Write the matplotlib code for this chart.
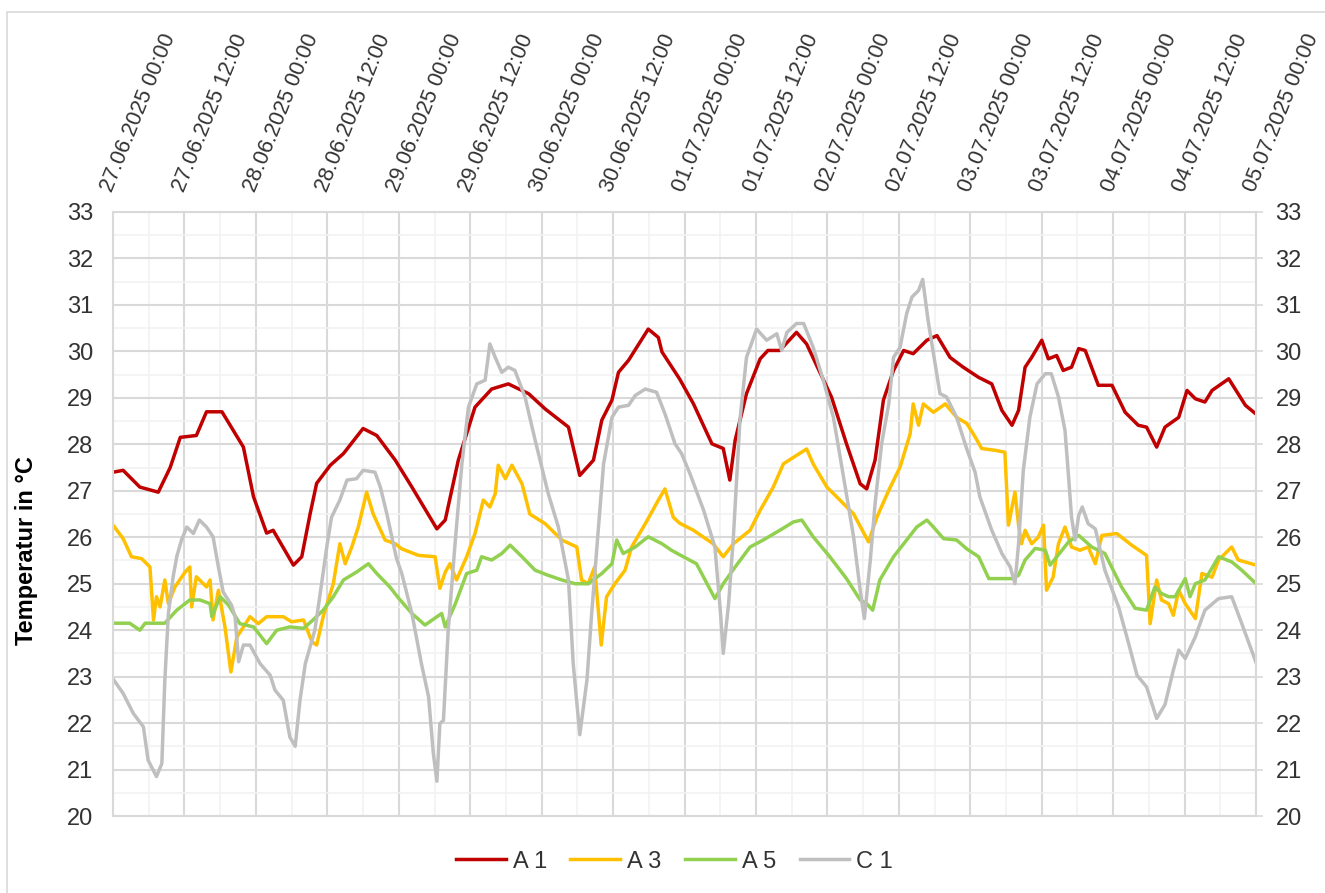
import numpy as np
import pandas as pd
import matplotlib
matplotlib.use("Agg")
import matplotlib.pyplot as plt
import matplotlib.dates as mdates
from matplotlib.patches import Rectangle
from matplotlib.transforms import ScaledTranslation

plt.rcParams['font.family'] = ['Liberation Sans', 'DejaVu Sans']

start = pd.Timestamp('2025-06-27 00:00')

# hours since start, temperatures
a1_h = [0, 1.7, 4.5, 7.6, 9.6, 11.3, 14.0, 15.7, 18.3, 21.9, 23.6, 25.8, 26.9, 30.3, 31.7, 33.1, 34.2, 36.5,
        38.7, 42.0, 44.3, 47.4, 50.2, 54.4, 55.8, 58.0, 60.8, 63.6, 66.4, 69.8, 72.6, 76.5, 78.4, 80.7, 82.1,
        83.8, 84.9, 86.6, 89.9, 91.6, 92.2, 95.2, 97.5, 100.6, 102.5, 103.6, 104.5, 106.4, 108.7, 110.0, 112.0,
        114.8, 116.5, 120.7, 123.2, 125.5, 126.6, 128.0, 129.4, 131.1, 132.8, 134.4, 136.7, 138.4, 140.6, 142.8,
        145.4, 147.6, 149.3, 151.0, 152.1, 153.2, 154.3, 156.0, 157.1, 158.5, 159.6, 161.0, 162.2, 163.3, 165.5,
        167.8, 170.0, 172.2, 173.6, 175.3, 176.7, 179.0, 180.4, 181.8, 183.4, 184.6, 187.4, 190.2, 192.0]
a1_t = [27.40, 27.44, 27.08, 26.97, 27.50, 28.15, 28.19, 28.70, 28.70, 27.94, 26.87, 26.09, 26.15, 25.40, 25.58,
        26.50, 27.16, 27.55, 27.80, 28.34, 28.19, 27.66, 27.08, 26.18, 26.37, 27.66, 28.80, 29.19, 29.30, 29.09,
        28.76, 28.37, 27.33, 27.66, 28.52, 28.95, 29.55, 29.81, 30.48, 30.30, 29.99, 29.40, 28.87, 28.01, 27.91,
        27.23, 28.09, 29.09, 29.84, 30.02, 30.02, 30.41, 30.16, 29.01, 28.01, 27.15, 27.04, 27.66, 28.95, 29.59,
        30.02, 29.95, 30.24, 30.34, 29.87, 29.66, 29.44, 29.30, 28.73, 28.41, 28.73, 29.66, 29.87, 30.24, 29.84,
        29.91, 29.59, 29.66, 30.06, 30.02, 29.27, 29.27, 28.69, 28.41, 28.37, 27.94, 28.37, 28.58, 29.16, 28.98,
        28.91, 29.16, 29.41, 28.84, 28.65]

a3_h = [0, 1.7, 3.1, 4.8, 6.2, 6.8, 7.3, 7.9, 8.7, 9.3, 10.4, 12.1, 12.9, 13.2, 14.0, 15.7, 16.3, 16.8, 17.7,
        18.8, 19.8, 20.8, 21.9, 23.0, 24.4, 25.8, 28.6, 30.0, 32.0, 33.4, 34.2, 35.3, 37.0, 38.1, 39.0, 40.1,
        41.2, 42.6, 43.7, 45.7, 47.4, 48.5, 51.3, 54.1, 54.9, 55.8, 56.6, 57.7, 59.4, 60.8, 62.2, 63.3, 64.2,
        64.7, 65.9, 67.0, 68.7, 70.0, 72.6, 75.4, 77.9, 78.7, 79.8, 80.9, 82.0, 82.9, 84.3, 86.0, 87.1, 89.4,
        91.6, 92.7, 94.1, 95.2, 97.5, 100.8, 102.5, 104.2, 107.0, 108.7, 110.9, 112.6, 114.3, 116.5, 117.6,
        119.9, 122.1, 124.4, 126.9, 128.3, 130.3, 132.2, 133.9, 134.4, 135.3, 136.1, 137.8, 139.8, 141.7,
        143.4, 144.8, 145.9, 148.2, 149.8, 150.4, 151.5, 152.1, 152.6, 153.2, 154.3, 155.4, 156.3, 156.8,
        157.9, 158.8, 159.9, 161.0, 162.4, 163.8, 165.0, 166.1, 168.6, 171.1, 173.6, 174.2, 175.3, 176.1,
        177.3, 178.1, 179.0, 180.1, 181.8, 182.9, 184.6, 185.7, 187.9, 189.0, 192.0]
a3_t = [26.26, 25.97, 25.58, 25.54, 25.36, 24.22, 24.72, 24.50, 25.08, 24.57, 24.93, 25.25, 25.36, 24.50, 25.15,
        24.93, 25.08, 24.22, 24.86, 24.07, 23.10, 23.85, 24.07, 24.29, 24.14, 24.29, 24.29, 24.18, 24.22, 23.75,
        23.68, 24.29, 25.00, 25.86, 25.43, 25.79, 26.22, 26.97, 26.50, 25.94, 25.86, 25.75, 25.61, 25.58, 24.90,
        25.25, 25.43, 25.08, 25.58, 26.08, 26.80, 26.65, 26.94, 27.55, 27.26, 27.55, 27.15, 26.50, 26.29, 25.94,
        25.79, 25.08, 25.00, 25.36, 23.68, 24.72, 25.00, 25.29, 25.79, 26.29, 26.80, 27.04, 26.43, 26.30, 26.15,
        25.86, 25.58, 25.86, 26.15, 26.58, 27.08, 27.58, 27.72, 27.90, 27.58, 27.08, 26.80, 26.50, 25.90, 26.43,
        27.01, 27.51, 28.23, 28.87, 28.41, 28.87, 28.69, 28.87, 28.58, 28.45, 28.16, 27.91, 27.87, 27.83, 26.26,
        26.97, 26.26, 25.86, 26.15, 25.86, 26.00, 26.26, 24.86, 25.14, 25.86, 26.22, 25.79, 25.72, 25.79, 25.43,
        26.04, 26.08, 25.83, 25.61, 24.14, 25.08, 24.65, 24.57, 24.32, 24.86, 24.57, 24.25, 25.22, 25.14, 25.51,
        25.79, 25.51, 25.40]

a5_h = [0, 2.8, 4.5, 5.4, 8.7, 10.7, 12.9, 14.6, 16.3, 16.6, 18.0, 19.4, 21.3, 23.6, 25.8, 27.5, 29.7, 32.0,
        33.6, 35.3, 37.0, 38.7, 40.9, 42.9, 44.3, 46.5, 47.9, 50.2, 52.4, 55.2, 55.8, 57.5, 59.4, 61.1, 61.9,
        63.6, 65.3, 66.7, 68.7, 70.9, 73.1, 75.4, 77.6, 79.8, 82.1, 83.8, 84.6, 85.7, 87.7, 89.9, 92.2, 93.8,
        95.5, 98.0, 101.1, 102.5, 104.5, 107.0, 109.2, 112.0, 114.3, 115.7, 117.6, 120.4, 123.2, 125.5, 126.6,
        127.6, 128.8, 131.1, 133.3, 135.0, 136.7, 137.8, 139.5, 141.7, 143.4, 145.4, 147.1, 151.0, 152.1,
        153.2, 154.9, 156.6, 157.4, 159.4, 160.5, 162.2, 164.4, 166.6, 169.4, 171.7, 173.6, 175.0, 176.1,
        177.3, 178.4, 180.1, 180.9, 181.8, 183.4, 185.7, 187.9, 189.6, 192.0]
a5_t = [24.15, 24.15, 24.00, 24.15, 24.15, 24.43, 24.65, 24.65, 24.57, 24.29, 24.72, 24.54, 24.14, 24.07, 23.71,
        24.00, 24.07, 24.04, 24.22, 24.43, 24.72, 25.08, 25.25, 25.43, 25.22, 24.93, 24.70, 24.36, 24.11, 24.36,
        24.07, 24.57, 25.22, 25.29, 25.58, 25.51, 25.65, 25.83, 25.58, 25.29, 25.18, 25.08, 25.00, 25.00, 25.22,
        25.43, 25.94, 25.65, 25.79, 26.01, 25.86, 25.72, 25.60, 25.43, 24.68, 25.00, 25.36, 25.79, 25.94, 26.15,
        26.33, 26.37, 26.01, 25.58, 25.11, 24.65, 24.57, 24.43, 25.08, 25.58, 25.94, 26.22, 26.37, 26.22, 25.97,
        25.94, 25.75, 25.58, 25.11, 25.11, 25.18, 25.51, 25.76, 25.72, 25.40, 25.72, 25.90, 26.04, 25.79, 25.65,
        24.93, 24.47, 24.43, 24.93, 24.79, 24.72, 24.72, 25.11, 24.72, 25.00, 25.08, 25.58, 25.47, 25.29, 25.00]

c1_h = [0, 1.7, 3.4, 5.1, 5.9, 7.3, 8.2, 8.7, 9.3, 10.1, 10.7, 11.5, 12.4, 13.5, 14.5, 15.7, 16.8, 17.7, 18.5,
        19.9, 20.5, 21.1, 21.9, 23.0, 24.7, 26.4, 27.2, 28.6, 29.7, 30.6, 31.4, 32.3, 33.1, 33.9, 34.8, 35.9,
        36.7, 38.1, 39.3, 40.9, 42.0, 44.0, 44.9, 46.0, 47.6, 48.5, 50.2, 51.8, 53.0, 53.8, 54.4, 54.9, 55.5,
        56.3, 57.5, 58.6, 59.7, 61.1, 62.5, 63.3, 64.2, 65.3, 66.4, 67.5, 69.2, 70.9, 73.1, 74.8, 76.5, 77.3,
        78.4, 79.6, 80.4, 81.5, 82.4, 83.8, 84.9, 86.6, 87.7, 89.4, 91.3, 92.7, 94.4, 95.5, 96.9, 99.2, 101.1,
        102.0, 102.5, 103.4, 104.2, 105.3, 106.4, 108.1, 109.8, 111.5, 112.3, 113.2, 114.8, 116.0, 117.6,
        119.3, 121.0, 122.7, 124.4, 125.5, 126.2, 127.2, 128.0, 129.1, 130.3, 131.1, 132.2, 133.3, 134.2,
        135.3, 136.0, 136.9, 138.1, 138.9, 140.0, 141.7, 143.4, 144.8, 145.6, 147.6, 149.3, 150.7, 151.5,
        152.1, 152.9, 154.0, 155.2, 156.6, 157.6, 158.8, 159.9, 160.5, 161.0, 161.6, 162.2, 162.8, 163.8,
        165.0, 166.6, 168.9, 170.6, 172.0, 173.6, 175.3, 176.7, 178.1, 179.0, 180.1, 181.8, 183.4, 185.7,
        187.9, 189.6, 192.0]
c1_t = [22.95, 22.64, 22.21, 21.92, 21.20, 20.85, 21.13, 22.92, 24.36, 25.15, 25.58, 25.94, 26.22, 26.08, 26.37,
        26.22, 26.01, 25.36, 24.82, 24.54, 24.29, 23.32, 23.68, 23.68, 23.28, 23.03, 22.71, 22.49, 21.70, 21.50,
        22.49, 23.28, 23.64, 24.00, 24.79, 25.79, 26.43, 26.80, 27.23, 27.26, 27.44, 27.40, 27.08, 26.50, 25.55,
        25.22, 24.36, 23.28, 22.57, 21.35, 20.75, 21.99, 22.06, 24.00, 25.94, 27.58, 28.80, 29.30, 29.38, 30.16,
        29.87, 29.55, 29.66, 29.59, 29.02, 28.09, 26.94, 26.22, 25.08, 23.28, 21.75, 22.92, 24.36, 26.15, 27.58,
        28.58, 28.80, 28.84, 29.05, 29.19, 29.12, 28.66, 28.01, 27.80, 27.37, 26.58, 25.79, 24.43, 23.50, 24.57,
        26.00, 28.52, 29.87, 30.48, 30.24, 30.38, 30.02, 30.41, 30.60, 30.60, 30.09, 29.38, 28.58, 27.30, 26.00,
        24.86, 24.25, 25.51, 26.72, 28.01, 28.87, 29.87, 30.09, 30.81, 31.17, 31.31, 31.55, 30.67, 29.73, 29.09,
        29.02, 28.58, 27.90, 27.40, 26.87, 26.15, 25.65, 25.36, 25.00, 25.86, 27.44, 28.58, 29.30, 29.52, 29.52,
        29.02, 28.30, 27.30, 26.43, 25.94, 26.47, 26.65, 26.29, 26.18, 25.29, 24.50, 23.71, 23.03, 22.78, 22.10,
        22.40, 23.14, 23.57, 23.39, 23.86, 24.43, 24.68, 24.72, 24.14, 23.30]

names = ['A 1', 'A 3', 'A 5', 'C 1']
colors = ['#c00000', '#ffc000', '#92d050', '#bfbfbf']
series = [(a1_h, a1_t), (a3_h, a3_t), (a5_h, a5_t), (c1_h, c1_t)]

fig = plt.figure(figsize=(13.25, 8.93), dpi=100)
ax = fig.add_axes([0.0853, 0.0862, 0.8627, 0.6764])

for name, col, (h, t) in zip(names, colors, series):
    x = start + pd.to_timedelta(np.array(h), unit='h')
    ax.plot(x, t, color=col, lw=2.5, label=name, solid_joinstyle='round')

end = start + pd.Timedelta(days=8)
ticks = pd.date_range(start, end, freq='12h')
ax.set_xlim(start, end)
ax.set_ylim(20, 33)
ax.set_yticks(np.arange(20, 34, 1))
ax.set_yticks(np.arange(20, 33, 0.5), minor=True)
ax.set_xticks(ticks)
ax.set_xticklabels([])
ax.xaxis.set_minor_locator(mdates.HourLocator(byhour=[6, 18]))

ax.grid(which='major', color='#d9d9d9', lw=1.5)
ax.grid(which='minor', color='#f2f2f2', lw=1.2)
ax.set_axisbelow(True)
for s in ax.spines.values():
    s.set_color('#d9d9d9')
    s.set_linewidth(1.5)

ax.tick_params(axis='x', which='both', length=0)
ax.tick_params(axis='y', which='major', left=False, right=True, labelleft=True, labelright=True,
               direction='out', length=5, width=1.2, color='#d9d9d9', labelsize=17, labelcolor='#333333', pad=9)
ax.tick_params(axis='y', which='minor', left=False, right=False)

# rotated date labels above the plot
off = ScaledTranslation(0.04, 0.167, fig.dpi_scale_trans)
for d in ticks:
    ax.text(d, 1.0, d.strftime('%d.%m.%Y %H:%M'), transform=ax.get_xaxis_transform() + off,
            rotation=68, rotation_mode='anchor', ha='left', va='bottom', fontsize=15.5, color='#333333')

ax.set_ylabel('Temperatur in °C', fontsize=17, fontweight='bold', color='#000000')
ax.yaxis.set_label_coords(-0.066, 0.44)

fig.legend(loc='center', bbox_to_anchor=(0.509, 0.035), ncol=4, frameon=False, fontsize=17,
           handlelength=2.1, columnspacing=1.0, handletextpad=0.3, labelcolor='#333333')

fig.patches.append(Rectangle((0.0053, -0.02), 1.0, 1.0066, transform=fig.transFigure, fill=False,
                             edgecolor='#d9d9d9', lw=1.2))

fig.savefig('out.png', dpi=100)
